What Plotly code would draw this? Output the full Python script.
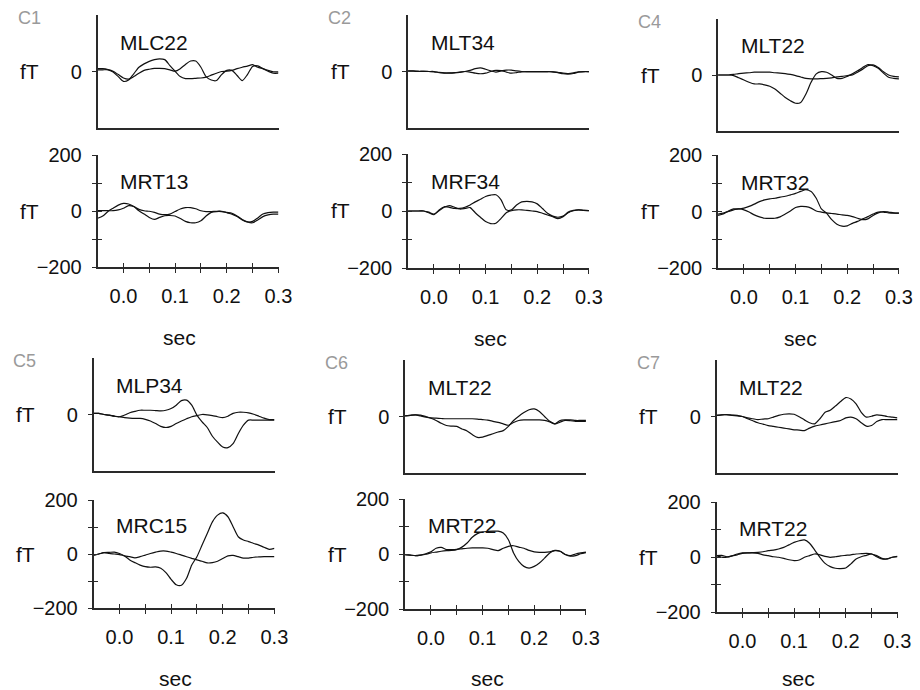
import plotly.graph_objects as go

# Sample times (s) for every averaged MEG trace
TIME = [-0.05, -0.04, -0.03, -0.02, -0.01, 0.00, 0.01, 0.02, 0.03, 0.04,
        0.05, 0.06, 0.07, 0.08, 0.09, 0.10, 0.11, 0.12, 0.13, 0.14,
        0.15, 0.16, 0.17, 0.18, 0.19, 0.20, 0.21, 0.22, 0.23, 0.24,
        0.25, 0.26, 0.27, 0.28, 0.29, 0.30]

PANELS = ["C1", "C2", "C4", "C5", "C6", "C7"]
TOP_CHANNELS = ["MLC22", "MLT34", "MLT22", "MLP34", "MLT22", "MLT22"]
BOTTOM_CHANNELS = ["MRT13", "MRF34", "MRT32", "MRC15", "MRT22", "MRT22"]

# Field values in fT, two conditions (A, B) per channel
C1_MLC22_A = [6, 6, 6, -2, -18, -35, -30, -8, 15, 27, 36, 42, 45, 42, 21, 1, -18, -25,
              -25, -24, -23, -20, -13, -6, 0, 1, 4, 10, 15, 19, 24, 15, 10, 4, -1, -1]
C1_MLC22_B = [10, 10, 7, 1, -11, -23, -27, -18, -6, 4, 8, 11, 11, 10, 6, 1, 10, 25,
              37, 37, 15, -18, -30, -32, -11, 4, 4, -14, -32, -11, 18, 20, 10, 1, -6, -6]
C1_MRT13_A = [-26, -18, -2, 10, 21, 27, 25, 16, 1, -11, -23, -30, -23, -17, -16, -18, -27, -37,
              -42, -42, -35, -18, -5, -2, -2, -5, -8, -18, -30, -39, -42, -32, -20, -14, -11, -11]
C1_MRT13_B = [1, 1, 1, 1, 4, 10, 19, 16, 6, 1, -1, -5, -11, -13, -11, -2, 7, 12,
              12, 8, 1, -2, -2, -1, -1, -6, -11, -20, -32, -39, -37, -25, -11, -6, -4, -4]

C2_MLT34_A = [2, 2, 1, 1, 0, -1, -4, -6, -6, -5, -3, 0, 4, 10, 13, 8, 2, -2,
              2, 5, 5, 2, 0, -1, -1, -1, -1, -1, -1, -4, -8, -9, -7, -2, -1, -1]
C2_MLT34_B = [1, 1, 0, 0, 0, 0, -3, -5, -5, -4, -2, 0, -2, -6, -8, -6, 0, 4,
              3, -2, -6, -4, -1, 0, 0, 0, 0, 0, -1, -3, -6, -7, -5, -1, 0, 0]
C2_MRF34_A = [0, 0, 0, 0, -6, -13, 4, 15, 13, 9, 9, 13, 21, 32, 41, 51, 56, 57,
              39, 4, 4, 21, 32, 34, 32, 25, 9, -8, -18, -22, -18, -6, 1, 4, 2, 1]
C2_MRF34_B = [0, 0, 0, 0, -4, -11, 1, 13, 19, 13, 7, 9, 12, -6, -22, -37, -44, -43,
              -26, -6, 1, 4, 4, 2, 0, -2, -8, -14, -20, -27, -20, -4, 2, 4, 2, 1]

C4_MLT22_A = [0, 0, 0, -2, -10, -18, -26, -32, -32, -35, -40, -50, -65, -80, -92, -101, -98, -68,
              -26, 4, 12, 10, 0, -12, -12, -5, 4, 15, 27, 37, 33, 24, 7, -8, -12, -14]
C4_MLT22_B = [0, 0, 0, 2, 5, 7, 8, 10, 10, 10, 10, 8, 7, 5, 2, -2, -7, -12,
              -14, -14, -13, -12, -10, -7, -5, -2, 0, 10, 21, 33, 36, 27, 12, 0, -5, -7]
C4_MRT32_A = [-9, -6, 0, 6, 9, 12, 18, 26, 35, 41, 45, 47, 51, 54, 59, 64, 71, 77,
              71, 47, 9, -6, -29, -45, -52, -51, -42, -35, -26, -18, -9, -2, -2, -5, -6, -6]
C4_MRT32_B = [-14, -9, 2, 9, 9, 6, -2, -12, -19, -24, -24, -24, -19, -9, 2, 14, 18, 17,
              12, 2, -2, -5, -7, -9, -12, -14, -18, -24, -29, -26, -14, -5, 0, -2, -5, -6]

C5_MLP34_A = [4, 4, 0, -2, -6, -8, -2, 6, 11, 15, 15, 15, 14, 13, 15, 21, 33, 49,
              51, 33, -2, -26, -46, -77, -98, -115, -117, -103, -68, -38, -20, -20, -20, -20, -20, -20]
C5_MLP34_B = [4, 4, 0, -2, -6, -8, -11, -13, -14, -14, -17, -23, -32, -42, -46, -42, -32, -23,
              -15, -8, -4, 0, -1, -4, -8, -11, -6, 4, 8, 8, 6, 1, -6, -13, -18, -18]
C5_MRC15_A = [-4, 0, 5, 6, 7, 2, -7, -22, -32, -41, -47, -49, -48, -53, -69, -94, -114, -116,
              -90, -41, -10, 33, 76, 119, 144, 152, 138, 101, 64, 52, 46, 39, 33, 25, 17, 21]
C5_MRC15_B = [-4, 0, 5, 2, 0, -2, -7, -10, -14, -10, -4, 2, 7, 11, 11, 7, 2, -4,
              -10, -16, -22, -27, -33, -32, -27, -17, -7, -5, -10, -15, -15, -12, -11, -10, -10, -10]

C6_MLT22_A = [2, 4, 6, 5, 0, -6, -14, -24, -32, -34, -35, -44, -51, -64, -74, -73, -67, -61,
              -55, -50, -35, -14, 1, 14, 24, 27, 18, 0, -17, -26, -14, -12, -12, -14, -14, -14]
C6_MLT22_B = [2, 4, 6, 2, -2, -5, -6, -7, -8, -8, -8, -8, -8, -8, -9, -11, -13, -17,
              -21, -26, -31, -21, -14, -12, -12, -12, -12, -14, -19, -26, -20, -14, -15, -17, -17, -17]
C6_MRT22_A = [-2, -4, -6, -4, -1, 4, 7, 10, 12, 13, 16, 25, 40, 61, 74, 80, 82, 83,
              83, 76, 52, 4, -27, -45, -51, -45, -33, -15, 4, 13, 10, -2, -6, 0, 4, 7]
C6_MRT22_B = [-2, -4, -6, -4, 1, 8, 21, 24, 16, 16, 17, 19, 21, 22, 22, 22, 21, 16,
              12, 21, 28, 30, 25, 21, 13, 8, 6, 6, 8, 12, 10, -2, -8, -6, 1, 5]

C7_MLT22_A = [4, 6, 7, 5, 4, 0, -5, -8, -11, -9, -8, -2, 4, 8, 9, 8, -1, -12,
              -22, -26, -8, 15, 22, 37, 53, 67, 62, 45, 15, -2, 1, 6, 4, 0, -2, -5]
C7_MLT22_B = [4, 6, 6, 4, 2, 0, -8, -15, -22, -27, -32, -35, -38, -41, -44, -47, -48, -50,
              -41, -34, -30, -26, -22, -18, -14, -5, -2, -8, -22, -34, -32, -18, -11, -11, -11, -11]
C7_MRT22_A = [5, 6, 1, 4, 8, 13, 15, 16, 17, 19, 23, 25, 29, 35, 44, 53, 59, 62,
              50, 25, -1, -23, -35, -41, -42, -40, -25, -7, 1, 6, 11, 1, -7, -7, -1, 2]
C7_MRT22_B = [5, -1, -1, 4, 11, 15, 15, 15, 13, 8, 5, 1, -1, -5, -10, -13, -11, -1,
              5, 11, 8, 2, -1, 1, 4, 6, 8, 11, 12, 13, 11, 5, -5, -7, -1, 1]

TOP_DATA = [(C1_MLC22_A, C1_MLC22_B), (C2_MLT34_A, C2_MLT34_B), (C4_MLT22_A, C4_MLT22_B),
            (C5_MLP34_A, C5_MLP34_B), (C6_MLT22_A, C6_MLT22_B), (C7_MLT22_A, C7_MLT22_B)]
BOTTOM_DATA = [(C1_MRT13_A, C1_MRT13_B), (C2_MRF34_A, C2_MRF34_B), (C4_MRT32_A, C4_MRT32_B),
               (C5_MRC15_A, C5_MRC15_B), (C6_MRT22_A, C6_MRT22_B), (C7_MRT22_A, C7_MRT22_B)]

X_TICKS = [0.0, 0.05, 0.10, 0.15, 0.20, 0.25, 0.30]
X_TICK_TEXT = ["0.0", "", "0.1", "", "0.2", "", "0.3"]
Y_TICKS = [-200, -100, 0, 100, 200]
Y_TICK_TEXT = ["\u2212200", "", "0", "", "200"]
X_RANGE = [-0.0502, 0.3002]
Y_RANGE = [-200, 200]

# ---- page geometry (pixels) ----
W, H = 920, 690
PANEL_LEFT = [97.5, 408, 718, 93.5, 405, 716.5]
PANEL_WIDTH = 181
TOP_BOX = [(15, 128), (15, 128), (19, 131), (358, 471), (360, 473), (360, 473)]
BOTTOM_BOX = [(155, 267), (154, 268), (155, 268), (500, 608), (499, 609), (502, 612)]
SEC_GAP = 70        # axis line to "sec" label centre
SEC_LOWEST = 678    # keep the label fully on the page

FONT = "Liberation Sans, Arial, Helvetica, sans-serif"
AXIS_COLOR = "#2a2a2a"
TICK_FONT = dict(family=FONT, size=20, color="#111111")
LABEL_FONT = dict(family=FONT, size=21, color="#111111")


def xd(px0, px1):
    return [px0 / W, px1 / W]


def yd(top, bottom):
    return [1 - bottom / H, 1 - top / H]


def xname(n):
    return "x" if n == 1 else f"x{n}"


def yname(n):
    return "y" if n == 1 else f"y{n}"


def xkey(n):
    return "xaxis" if n == 1 else f"xaxis{n}"


def ykey(n):
    return "yaxis" if n == 1 else f"yaxis{n}"


fig = go.Figure()
layout = {}
annotations = []
line_style = dict(color="#111111", width=1.2, shape="spline", smoothing=0.7)
common = dict(showgrid=False, zeroline=False, fixedrange=True, automargin=False)

n = 0
for i, panel in enumerate(PANELS):
    left = PANEL_LEFT[i]
    xdom = xd(left, left + PANEL_WIDTH)

    # ---------- upper channel ----------
    n += 1
    t0, t1 = TOP_BOX[i]
    for series in TOP_DATA[i]:
        fig.add_trace(go.Scatter(x=TIME, y=series, mode="lines", line=line_style,
                                 xaxis=xname(n), yaxis=yname(n), showlegend=False,
                                 hoverinfo="skip"))
    layout[xkey(n)] = dict(domain=xdom, anchor=yname(n), range=X_RANGE, showline=True,
                           linecolor=AXIS_COLOR, linewidth=1.5, ticks="", showticklabels=False,
                           **common)
    layout[ykey(n)] = dict(domain=yd(t0, t1), anchor=xname(n), range=Y_RANGE, showline=True,
                           linecolor=AXIS_COLOR, linewidth=1.5, ticks="outside", ticklen=4,
                           tickcolor=AXIS_COLOR, tickvals=[0], ticktext=["0"],
                           tickfont=TICK_FONT, ticklabelstandoff=6, **common)
    # panel label
    annotations.append(dict(text=panel, xref=f"{xname(n)} domain", yref=f"{yname(n)} domain",
                            x=-82 / PANEL_WIDTH, y=1 - 3 / (t1 - t0), xanchor="left",
                            yanchor="middle", showarrow=False,
                            font=dict(family=FONT, size=18, color="#9a9a9a")))
    annotations.append(dict(text=TOP_CHANNELS[i], xref=f"{xname(n)} domain",
                            yref=f"{yname(n)} domain", x=0.115, y=0.76, xanchor="left",
                            yanchor="middle", showarrow=False, font=LABEL_FONT))
    annotations.append(dict(text="fT", xref=f"{xname(n)} domain", yref=yname(n),
                            x=-68 / PANEL_WIDTH, y=0, xanchor="center", yanchor="middle",
                            showarrow=False, font=LABEL_FONT))

    # ---------- lower channel ----------
    n += 1
    b0, b1 = BOTTOM_BOX[i]
    for series in BOTTOM_DATA[i]:
        fig.add_trace(go.Scatter(x=TIME, y=series, mode="lines", line=line_style,
                                 xaxis=xname(n), yaxis=yname(n), showlegend=False,
                                 hoverinfo="skip"))
    layout[xkey(n)] = dict(domain=xdom, anchor=yname(n), range=X_RANGE, showline=True,
                           linecolor=AXIS_COLOR, linewidth=1.5, ticks="outside", ticklen=4,
                           tickcolor=AXIS_COLOR, tickvals=X_TICKS, ticktext=X_TICK_TEXT,
                           tickfont=TICK_FONT, ticklabelstandoff=6, **common)
    layout[ykey(n)] = dict(domain=yd(b0, b1), anchor=xname(n), range=Y_RANGE, showline=True,
                           linecolor=AXIS_COLOR, linewidth=1.5, ticks="outside", ticklen=4,
                           tickcolor=AXIS_COLOR, tickvals=Y_TICKS, ticktext=Y_TICK_TEXT,
                           tickfont=TICK_FONT, ticklabelstandoff=6, **common)
    main_n = n

    # inward half of the crossing tick marks, on overlaid axes
    n += 1
    fig.add_trace(go.Scatter(x=[None], y=[None], mode="lines", xaxis=xname(n),
                             yaxis=yname(n), showlegend=False, hoverinfo="skip"))
    layout[xkey(n)] = dict(overlaying=xname(main_n), anchor=yname(n), range=X_RANGE,
                           showline=False, ticks="inside", ticklen=4, tickcolor=AXIS_COLOR,
                           tickvals=X_TICKS, showticklabels=False, **common)
    layout[ykey(n)] = dict(overlaying=yname(main_n), anchor=xname(n), range=Y_RANGE,
                           showline=False, ticks="inside", ticklen=4, tickcolor=AXIS_COLOR,
                           tickvals=Y_TICKS, showticklabels=False, **common)

    annotations.append(dict(text=BOTTOM_CHANNELS[i], xref=f"{xname(main_n)} domain",
                            yref=f"{yname(main_n)} domain", x=0.115, y=0.76, xanchor="left",
                            yanchor="middle", showarrow=False, font=LABEL_FONT))
    annotations.append(dict(text="fT", xref=f"{xname(main_n)} domain", yref=yname(main_n),
                            x=-68 / PANEL_WIDTH, y=0, xanchor="center", yanchor="middle",
                            showarrow=False, font=LABEL_FONT))
    sec_px = min(b1 + SEC_GAP, SEC_LOWEST)
    annotations.append(dict(text="sec", xref=f"{xname(main_n)} domain",
                            yref=f"{yname(main_n)} domain", x=0.455,
                            y=-(sec_px - b1) / (b1 - b0), xanchor="center", yanchor="middle",
                            showarrow=False, font=LABEL_FONT))

fig.update_layout(**layout)
fig.update_layout(width=W, height=H, autosize=False,
                  margin=dict(l=0, r=0, t=0, b=0, pad=0, autoexpand=False),
                  paper_bgcolor="white", plot_bgcolor="white",
                  annotations=annotations, showlegend=False)

fig.write_html("out.html", config={"displayModeBar": False})
